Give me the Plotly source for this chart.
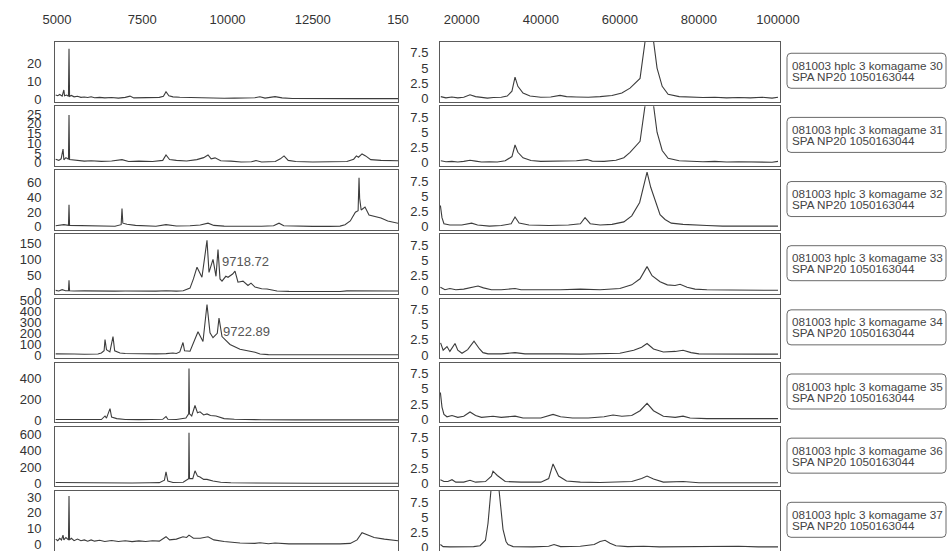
import plotly.graph_objects as go

W, H = 948, 551

# ---------------- data ----------------
# Left column: m/z 5000-15000
L1_x = [4960,5020,5080,5150,5200,5220,5280,5335,5351,5367,5420,5500,5600,5700,5800,5900,6000,6100,6250,6400,6600,6800,7000,7140,7250,7500,7800,8000,8120,8196,8280,8400,8600,8800,9000,9300,9600,9900,10200,10500,10800,10950,11100,11393,11600,11900,12300,12800,13300,13800,14400,15000]
L1_y = [2.2,1.8,2.5,1.6,5,1.8,2.2,1.5,28,1.5,2.0,1.2,1.5,0.9,1.1,0.8,1.2,0.7,0.9,0.6,0.8,0.5,0.9,1.6,0.6,0.7,0.5,0.9,1.5,4.0,1.8,1.2,1.0,0.9,0.6,0.5,0.6,0.4,0.5,0.4,0.7,1.2,0.5,1.3,0.6,0.3,0.2,0.3,0.2,0.2,0.2,0.2]

L2_x = [4960,5050,5120,5176,5200,5260,5335,5351,5367,5450,5600,5800,6000,6300,6600,6905,7100,7400,7800,8100,8196,8300,8500,8800,9100,9300,9428,9520,9633,9800,10100,10400,10700,10835,11000,11400,11550,11657,11780,12000,12500,13000,13500,13700,13780,13840,13945,14050,14200,14500,14800,15000]
L2_y = [1.8,1.2,2.0,7,1.5,2.6,1.8,24.5,1.6,1.4,1.0,0.8,1.0,0.7,0.9,1.6,0.6,0.8,0.6,1.2,4.0,1.6,1.2,0.9,1.6,2.6,4.0,2.0,2.5,1.0,0.8,0.4,0.5,1.1,0.4,0.6,2.0,3.5,1.2,0.6,0.4,0.5,0.6,1.8,3.5,2.8,4.5,3.5,1.6,1.2,1.0,1.0]

L3_x = [4960,5100,5200,5335,5351,5367,5500,5800,6100,6400,6700,6880,6905,6930,7050,7300,7600,7900,8196,8500,8900,9200,9428,9600,9900,10300,10700,11000,11350,11510,11650,12000,12500,13000,13300,13446,13600,13750,13830,13857,13875,13920,14032,14150,14300,14500,14700,14900,15000]
L3_y = [1.5,2,3,2,30,2,1.8,1.2,0.8,1.0,0.8,3,25,5,3.5,2,1.0,0.8,3,1.2,1.5,2.5,5,2,1,0.8,0.5,0.8,1.5,5,1.5,0.8,0.6,0.7,1.0,3,8,20,22,67,39,23,27,16,14,12,8,5.5,5]

L4_x = [4960,5050,5150,5250,5335,5351,5367,5500,5800,6100,6400,6700,7000,7300,7600,7900,8200,8500,8700,8900,9000,9105,9250,9398,9457,9574,9662,9721,9780,9838,9950,10014,10150,10219,10307,10454,10600,10689,10806,11000,11158,11451,11800,12300,12900,13300,13500,14000,14500,15000]
L4_y = [5,3,7,4,4,36,4,3,3.5,2.5,3,2.5,3,2.5,3,2.5,4,2.5,4,12,40,76,45,158,60,100,48,130,40,33,48,45,55,64,30,33,20,27,15,10,9,3,2,1.5,1.5,1.5,3.5,3.5,3.5,3]

L5_x = [4960,5100,5300,5500,5800,6000,6200,6300,6380,6407,6450,6550,6641,6690,6846,7000,7300,7600,7900,8200,8400,8500,8600,8694,8740,8900,9000,9134,9280,9398,9486,9574,9700,9750,9838,10073,10366,10806,10953,11200,12000,13000,14000,15000]
L5_y = [12,10,9,10,8,9,10,20,40,143,50,30,170,40,20,15,12,14,12,14,20,15,30,116,40,36,120,214,125,464,205,160,200,340,170,98,54,27,10,5,4,4,4,4]

L6_x = [4960,5200,5500,5800,6100,6300,6407,6450,6553,6600,6750,7000,7400,7800,8100,8196,8250,8500,8780,8860,8870,8885,8950,9046,9120,9193,9300,9398,9500,9662,9900,10200,10600,11000,12000,13000,14000,15000]
L6_y = [6,5,4,5,4,6,40,20,110,30,15,6,5,6,8,35,8,7,20,60,495,60,40,140,70,80,50,60,45,40,15,8,5,4,3,3,3,3]

L7_x = [4960,5300,5700,6200,6700,7200,7700,8000,8150,8196,8250,8400,8700,8860,8870,8885,8980,9046,9120,9193,9300,9398,9574,9800,10100,10600,11500,12500,13500,15000]
L7_y = [12,10,8,8,6,6,8,10,40,144,30,12,15,60,623,60,60,155,90,80,50,50,30,15,8,5,4,3,3,3]

L8_x = [4960,5020,5080,5130,5175,5200,5260,5335,5351,5367,5420,5500,5600,5700,5800,5900,6000,6100,6250,6400,6600,6800,7000,7200,7400,7600,7800,8000,8196,8300,8500,8694,8800,8870,9000,9200,9428,9600,9900,10366,10800,10953,11200,11393,11800,12300,12800,13300,13600,13800,13945,14100,14300,14600,15000]
L8_y = [3.5,2.5,4,3,6,3,4.5,3,30.6,3,4,2.5,3.5,2.5,3,2.2,3,2.2,2.8,2.0,2.6,2.0,2.5,1.9,2.4,2.0,2.5,2.2,5.0,3,3.5,5,4.5,6,4,4,5,3,2,1,0.8,1.2,0.6,1.0,0.5,0.4,0.4,0.5,0.8,3,7.5,6,4.5,3.5,2.5]

# Right column: m/z 15000-100000
R1_x = [14700,16000,17500,19000,20500,22090,23500,25000,26500,28000,30000,31500,32700,33475,34200,35500,37270,40000,42500,44860,46500,49000,52000,55000,58000,60500,62570,65100,66100,66600,68300,69400,70700,72200,75000,78000,81000,84000,87000,90000,93000,96000,98500,100000]
R1_y = [0.3,0.1,0.25,0.1,0.2,0.6,0.3,0.15,0.05,0.15,0.2,0.4,1.2,3.5,2.0,0.9,0.4,0.2,0.25,0.5,0.3,0.25,0.2,0.3,0.5,0.9,1.7,3.3,7.8,10.5,10.5,5,2,0.7,0.3,0.2,0.15,0.2,0.1,0.15,0.1,0.2,0.05,0.2]

R2_x = [14700,16000,17500,19000,20500,22090,23500,25000,27000,29000,31000,32700,33475,34200,35500,37500,40000,43000,46000,49000,51691,53000,56000,59000,61000,62570,65100,66100,66600,68300,69400,70700,72200,75000,78000,81000,84000,87000,90000,93000,96000,98500,100000]
R2_y = [0.3,0.15,0.2,0.1,0.2,0.4,0.25,0.1,0.15,0.1,0.3,1.0,2.9,1.7,0.8,0.35,0.2,0.25,0.2,0.3,0.5,0.25,0.2,0.4,0.8,1.7,3.5,8.0,10.5,10.5,5,2,0.7,0.3,0.2,0.15,0.2,0.1,0.15,0.1,0.15,0.05,0.2]

R3_x = [14600,15000,15500,17000,20000,22500,24000,27000,30000,32500,33475,34500,37000,42000,47000,50000,51185,52500,55000,58000,61000,63000,65000,66000,66871,67800,68895,70160,71425,73000,75979,78000,82000,86000,90000,95000,100000]
R3_y = [3.5,1.5,0.5,0.3,0.3,0.6,0.3,0.1,0.2,0.5,1.6,0.6,0.3,0.2,0.3,0.5,1.5,0.5,0.3,0.4,0.8,1.8,4,6.5,9.0,6.5,4.5,2.0,1.2,0.6,0.4,0.3,0.2,0.1,0.15,0.1,0.1]

R4_x = [14600,15765,17000,18500,20500,22500,24114,25500,27500,30000,33475,35000,40000,45000,50000,55000,60000,63000,65100,66871,68136,70160,72000,73955,75220,77000,79000,82000,88000,95000,100000]
R4_y = [0.6,0.2,0.4,0.2,0.3,0.6,0.8,0.5,0.2,0.2,0.4,0.2,0.15,0.2,0.3,0.2,0.4,1.0,2.0,4.0,2.5,1.5,1.0,0.9,1.1,0.6,0.3,0.2,0.15,0.1,0.1]

R5_x = [14650,15300,16271,17000,18295,19000,20066,21500,23102,24500,25379,26644,30000,33475,36000,40000,45000,50000,55000,60000,63500,65500,66871,68500,71000,74000,75979,78000,80000,85000,90000,95000,100000]
R5_y = [2.0,0.8,1.4,0.6,1.9,0.8,0.3,0.9,2.3,1.0,0.4,0.2,0.2,0.4,0.2,0.15,0.2,0.15,0.2,0.3,0.8,1.3,1.9,1.0,0.5,0.6,0.8,0.4,0.2,0.15,0.2,0.15,0.15]

R6_x = [14600,15000,15500,16271,17536,19000,20500,22090,23500,25000,27909,30000,33475,35500,40000,43089,45000,48000,52000,56000,58269,60500,63000,65100,66871,68500,71000,74000,75979,77750,82000,88000,94000,100000]
R6_y = [4.4,2.0,0.8,0.4,0.6,0.3,0.5,1.2,0.6,0.3,0.5,0.3,0.5,0.2,0.2,0.8,0.4,0.2,0.2,0.4,0.7,0.5,0.6,1.4,2.6,1.4,0.5,0.3,0.5,0.2,0.1,0.1,0.1,0.1]

R7_x = [14600,15500,16500,17536,18500,20500,22090,23500,26000,27500,27909,29000,31000,35000,40000,42000,43089,44500,46500,50000,55000,60000,63000,65500,66871,68500,71000,75979,80000,90000,100000]
R7_y = [0.6,0.3,0.3,0.6,0.2,0.2,0.5,0.2,0.3,1.2,2.0,1.3,0.3,0.2,0.2,0.8,3.2,1.2,0.4,0.2,0.15,0.2,0.3,0.8,1.2,0.7,0.2,0.3,0.1,0.1,0.1]

R8_x = [14600,15300,17000,20000,23000,24620,26000,26644,27403,28415,29427,30439,31200,31704,33000,38000,42000,43342,45000,50000,53500,55000,56245,57500,59000,62000,66000,70000,80000,90000,95000,100000]
R8_y = [0.5,0.15,0.1,0.1,0.15,0.3,1.2,4.0,9.5,11,9.5,3.0,1.0,0.5,0.15,0.1,0.2,0.5,0.15,0.2,0.5,1.0,1.2,0.7,0.3,0.15,0.2,0.1,0.15,0.2,0.1,0.1]

left_x = [L1_x, L2_x, L3_x, L4_x, L5_x, L6_x, L7_x, L8_x]
left_y = [L1_y, L2_y, L3_y, L4_y, L5_y, L6_y, L7_y, L8_y]
right_x = [R1_x, R2_x, R3_x, R4_x, R5_x, R6_x, R7_x, R8_x]
right_y = [R1_y, R2_y, R3_y, R4_y, R5_y, R6_y, R7_y, R8_y]

left_ranges = [[-1.4, 31.7], [-1.5, 29], [-4, 77], [-6, 176], [-27, 518], [-20, 549], [-36, 695], [-3.7, 33.7]]
left_ticks = [[0, 10, 20], [0, 5, 10, 15, 20, 25], [0, 20, 40, 60], [0, 50, 100, 150],
              [0, 100, 200, 300, 400, 500], [0, 200, 400], [0, 200, 400, 600], [0, 10, 20, 30]]
right_ticks = [0, 2.5, 5, 7.5]
right_ticktext = ["0", "2.5", "5", "7.5"]

top_left_ticks = [5000, 7500, 10000, 12500, 15000]
top_left_text = ["5000", "7500", "10000", "12500", "150"]
top_right_ticks = [20000, 40000, 60000, 80000, 100000]

sample_ids = [30, 31, 32, 33, 34, 35, 36, 37]
line1_tpl = "081003 hplc 3 komagame {}"
line2 = "SPA NP20 1050163044"

peak_labels = [(3, 9790, 92, "9718.72"), (4, 9810, 214, "9722.89")]  # (row, x, y, text)

# ---------------- layout ----------------
FONT = "Liberation Sans, Arial, sans-serif"
LINE = "#3c3c3c"
BORDER = "#5a5a5a"
TXT = "#333333"

row_top0, row_step, row_h = 42.0, 64.15, 59.5
lx0, lx1 = 55, 398
rx0, rx1 = 440, 780

fig = go.Figure()
layout = dict(width=W, height=H, margin=dict(l=0, r=0, t=0, b=0),
              paper_bgcolor="white", plot_bgcolor="white", showlegend=False)

shapes, annotations = [], []

def ydom(r):
    top = row_top0 + r * row_step
    bot = min(top + row_h, H)
    return [1 - bot / H, 1 - top / H]

for r in range(8):
    for c in range(2):
        idx = r * 2 + c + 1
        xs = "" if idx == 1 else str(idx)
        xa, ya = "xaxis" + xs, "yaxis" + xs
        if c == 0:
            fig.add_trace(go.Scatter(x=left_x[r], y=left_y[r], mode="lines",
                                     line=dict(color=LINE, width=1.1), xaxis="x" + xs, yaxis="y" + xs,
                                     hoverinfo="skip"))
            xr, dom = [4940, 15000], [lx0 / W, lx1 / W]
            yr, yt, ytt = left_ranges[r], left_ticks[r], [str(v) for v in left_ticks[r]]
            tvals, ttext = top_left_ticks, top_left_text
            ystand = 10
        else:
            fig.add_trace(go.Scatter(x=right_x[r], y=right_y[r], mode="lines",
                                     line=dict(color=LINE, width=1.1), xaxis="x" + xs, yaxis="y" + xs,
                                     hoverinfo="skip", cliponaxis=True))
            xr, dom = [14500, 100500], [rx0 / W, rx1 / W]
            yr, yt, ytt = [-0.5, 9.3], right_ticks, right_ticktext
            tvals, ttext = top_right_ticks, [str(v) for v in top_right_ticks]
            ystand = 8
        layout[xa] = dict(domain=dom, range=xr, anchor="y" + xs, showgrid=False, zeroline=False,
                          showline=True, mirror=True, linecolor=BORDER, linewidth=1,
                          ticks="", showticklabels=(r == 0), side="top" if r == 0 else "bottom",
                          tickmode="array", tickvals=tvals, ticktext=ttext, ticklabelstandoff=12,
                          ticklabeloverflow="allow",
                          tickfont=dict(family=FONT, size=13, color=TXT), automargin=False,
                          fixedrange=True)
        layout[ya] = dict(domain=ydom(r), range=yr, anchor="x" + xs, showgrid=False, zeroline=False,
                          showline=True, mirror=True, linecolor=BORDER, linewidth=1,
                          ticks="", tickmode="array", tickvals=yt, ticktext=ytt,
                          ticklabelstandoff=ystand, ticklabeloverflow="allow",
                          tickfont=dict(family=FONT, size=13, color=TXT), automargin=False,
                          fixedrange=True)

# label boxes
bx0, bx1, bh, rad = 787, 946, 35, 4
for r, sid in enumerate(sample_ids):
    cy = row_top0 + r * row_step + row_h / 2 - 1
    top, bot = cy - bh / 2, cy + bh / 2
    X0, X1 = bx0 / W, bx1 / W
    Y1, Y0 = 1 - top / H, 1 - bot / H
    rx, ry = rad / W, rad / H
    path = (f"M {X0+rx},{Y1} L {X1-rx},{Y1} Q {X1},{Y1} {X1},{Y1-ry} L {X1},{Y0+ry} "
            f"Q {X1},{Y0} {X1-rx},{Y0} L {X0+rx},{Y0} Q {X0},{Y0} {X0},{Y0+ry} "
            f"L {X0},{Y1-ry} Q {X0},{Y1} {X0+rx},{Y1} Z")
    shapes.append(dict(type="path", path=path, xref="paper", yref="paper",
                       line=dict(color="#6a6a6a", width=1), fillcolor="white"))
    for k, txt in enumerate([line1_tpl.format(sid), line2]):
        annotations.append(dict(text=txt, xref="paper", yref="paper", x=790 / W,
                                y=1 - (cy - 5.5 + 11 * k) / H, xanchor="left", yanchor="middle",
                                showarrow=False, font=dict(family=FONT, size=11.7, color="#444")))

for r, xv, yv, txt in peak_labels:
    idx = r * 2 + 1
    annotations.append(dict(text=txt, xref="x" + str(idx), yref="y" + str(idx), x=xv, y=yv,
                            xanchor="left", yanchor="middle", showarrow=False,
                            font=dict(family=FONT, size=13, color="#555")))

layout["shapes"] = shapes
layout["annotations"] = annotations
fig.update_layout(**layout)
fig.write_html("out.html", config={"displayModeBar": False, "staticPlot": True},
               post_script="document.body.style.margin='0';document.body.style.padding='0';"
                           "document.body.style.overflow='hidden';")
